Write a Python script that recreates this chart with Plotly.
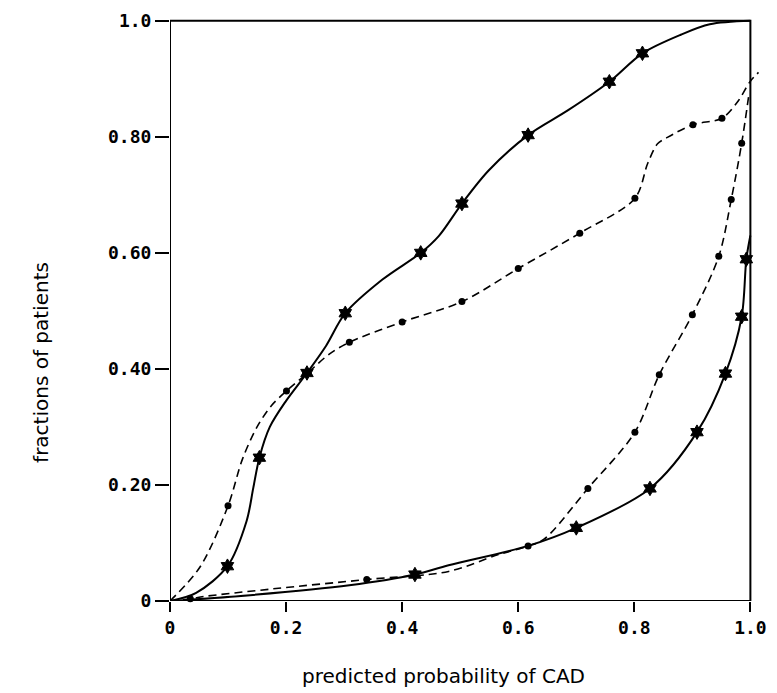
import plotly.graph_objects as go

# ---- data ----
# Curve A: solid, star markers (upper)
a_line_x = [0, 0.045, 0.099, 0.132, 0.1435, 0.154, 0.172, 0.2, 0.236, 0.269, 0.302, 0.366, 0.432, 0.463, 0.503, 0.549, 0.617, 0.686, 0.757, 0.814, 0.88, 0.93, 1.0]
a_line_y = [0, 0.014, 0.060, 0.138, 0.195, 0.247, 0.300, 0.345, 0.393, 0.440, 0.496, 0.554, 0.600, 0.629, 0.685, 0.742, 0.803, 0.846, 0.895, 0.944, 0.976, 0.994, 1.0]
a_mark_x = [0.099, 0.154, 0.236, 0.302, 0.432, 0.503, 0.617, 0.757, 0.814]
a_mark_y = [0.060, 0.247, 0.393, 0.496, 0.600, 0.685, 0.803, 0.895, 0.944]

# Curve B: dashed, circle markers (upper)
b_line_x = [0, 0.052, 0.100, 0.125, 0.150, 0.175, 0.2007, 0.236, 0.275, 0.309, 0.400, 0.503, 0.600, 0.706, 0.801, 0.823, 0.840, 0.857, 0.901, 0.951, 0.977, 1.0, 1.014]
b_line_y = [0, 0.059, 0.164, 0.245, 0.300, 0.337, 0.362, 0.392, 0.426, 0.446, 0.481, 0.516, 0.573, 0.634, 0.694, 0.754, 0.788, 0.799, 0.821, 0.832, 0.859, 0.896, 0.911]
b_mark_x = [0.100, 0.2007, 0.309, 0.400, 0.503, 0.600, 0.706, 0.801, 0.901, 0.951]
b_mark_y = [0.164, 0.362, 0.446, 0.481, 0.516, 0.573, 0.634, 0.694, 0.821, 0.832]

# Curve C: dashed, circle markers (lower)
c_line_x = [0, 0.035, 0.06, 0.178, 0.339, 0.48, 0.566, 0.617, 0.645, 0.720, 0.801, 0.843, 0.900, 0.9455, 0.967, 0.985, 0.997]
c_line_y = [0, 0.004, 0.008, 0.021, 0.037, 0.051, 0.080, 0.0946, 0.107, 0.194, 0.291, 0.390, 0.4935, 0.594, 0.692, 0.789, 0.870]
c_mark_x = [0.035, 0.339, 0.617, 0.720, 0.801, 0.843, 0.900, 0.9455, 0.967, 0.985]
c_mark_y = [0.004, 0.037, 0.0946, 0.194, 0.291, 0.390, 0.4935, 0.594, 0.692, 0.789]

# Curve D: solid, star markers (lower)
d_line_x = [0, 0.138, 0.309, 0.422, 0.48, 0.617, 0.700, 0.827, 0.908, 0.957, 0.985, 0.993, 1.0]
d_line_y = [0, 0.010, 0.027, 0.0456, 0.0615, 0.095, 0.126, 0.194, 0.291, 0.392, 0.490, 0.589, 0.630]
d_mark_x = [0.422, 0.700, 0.827, 0.908, 0.957, 0.985, 0.993]
d_mark_y = [0.0456, 0.126, 0.194, 0.291, 0.392, 0.490, 0.589]

x_ticks = [0, 0.2, 0.4, 0.6, 0.8, 1.0]
x_tick_labels = ["0", "0.2", "0.4", "0.6", "0.8", "1.0"]
y_ticks = [0, 0.2, 0.4, 0.6, 0.8, 1.0]
y_tick_labels = ["0", "0.20", "0.40", "0.60", "0.80", "1.0"]

fig = go.Figure()

def add_curve(lx, ly, mx, my, dash, symbol, msize, mline):
    fig.add_trace(go.Scatter(
        x=lx, y=ly, mode="lines",
        line=dict(color="black", width=2 if dash == "solid" else 1.6, dash=dash,
                  shape="spline", smoothing=0.9),
        hoverinfo="skip", showlegend=False))
    fig.add_trace(go.Scatter(
        x=mx, y=my, mode="markers",
        marker=dict(symbol=symbol, size=msize, color="black",
                    line=dict(color="black", width=mline)),
        showlegend=False, cliponaxis=False))

add_curve(a_line_x, a_line_y, a_mark_x, a_mark_y, "solid", "hexagram", 11, 1)
add_curve(b_line_x, b_line_y, b_mark_x, b_mark_y, "8px,5px", "circle", 7, 0)
add_curve(c_line_x, c_line_y, c_mark_x, c_mark_y, "8px,5px", "circle", 7, 0)
add_curve(d_line_x, d_line_y, d_mark_x, d_mark_y, "solid", "hexagram", 11, 1)

# frame
fig.add_shape(type="rect", x0=0, y0=0, x1=1, y1=1, xref="x", yref="y",
              line=dict(color="black", width=2), layer="above")

tickfont = dict(family="DejaVu Sans Mono", size=18, color="black", weight="bold")

fig.update_layout(
    width=777, height=693,
    margin=dict(l=170, r=11, t=10, b=92),
    paper_bgcolor="white", plot_bgcolor="white",
    xaxis=dict(range=[0, 1.02], showgrid=False, zeroline=False, showline=False,
               tickmode="array", tickvals=x_ticks, ticktext=x_tick_labels,
               ticks="outside", ticklen=10, tickwidth=2, tickcolor="black",
               tickfont=tickfont),
    yaxis=dict(range=[0, 1.01], showgrid=False, zeroline=False, showline=False,
               tickmode="array", tickvals=y_ticks, ticktext=y_tick_labels,
               ticks="outside", ticklen=14, tickwidth=2, tickcolor="black",
               tickfont=tickfont),
    annotations=[
        dict(text="fractions of patients", xref="paper", yref="paper",
             x=(40 - 170) / 596, y=(601 - 360) / 591, textangle=-90,
             showarrow=False, xanchor="center", yanchor="middle",
             font=dict(family="DejaVu Sans", size=20, color="black")),
        dict(text="predicted probability of CAD", xref="paper", yref="paper",
             x=(445 - 170) / 596, y=(601 - 677) / 591,
             showarrow=False, xanchor="center", yanchor="middle",
             font=dict(family="DejaVu Sans", size=20, color="black")),
    ],
)

fig.write_html("out.html")
